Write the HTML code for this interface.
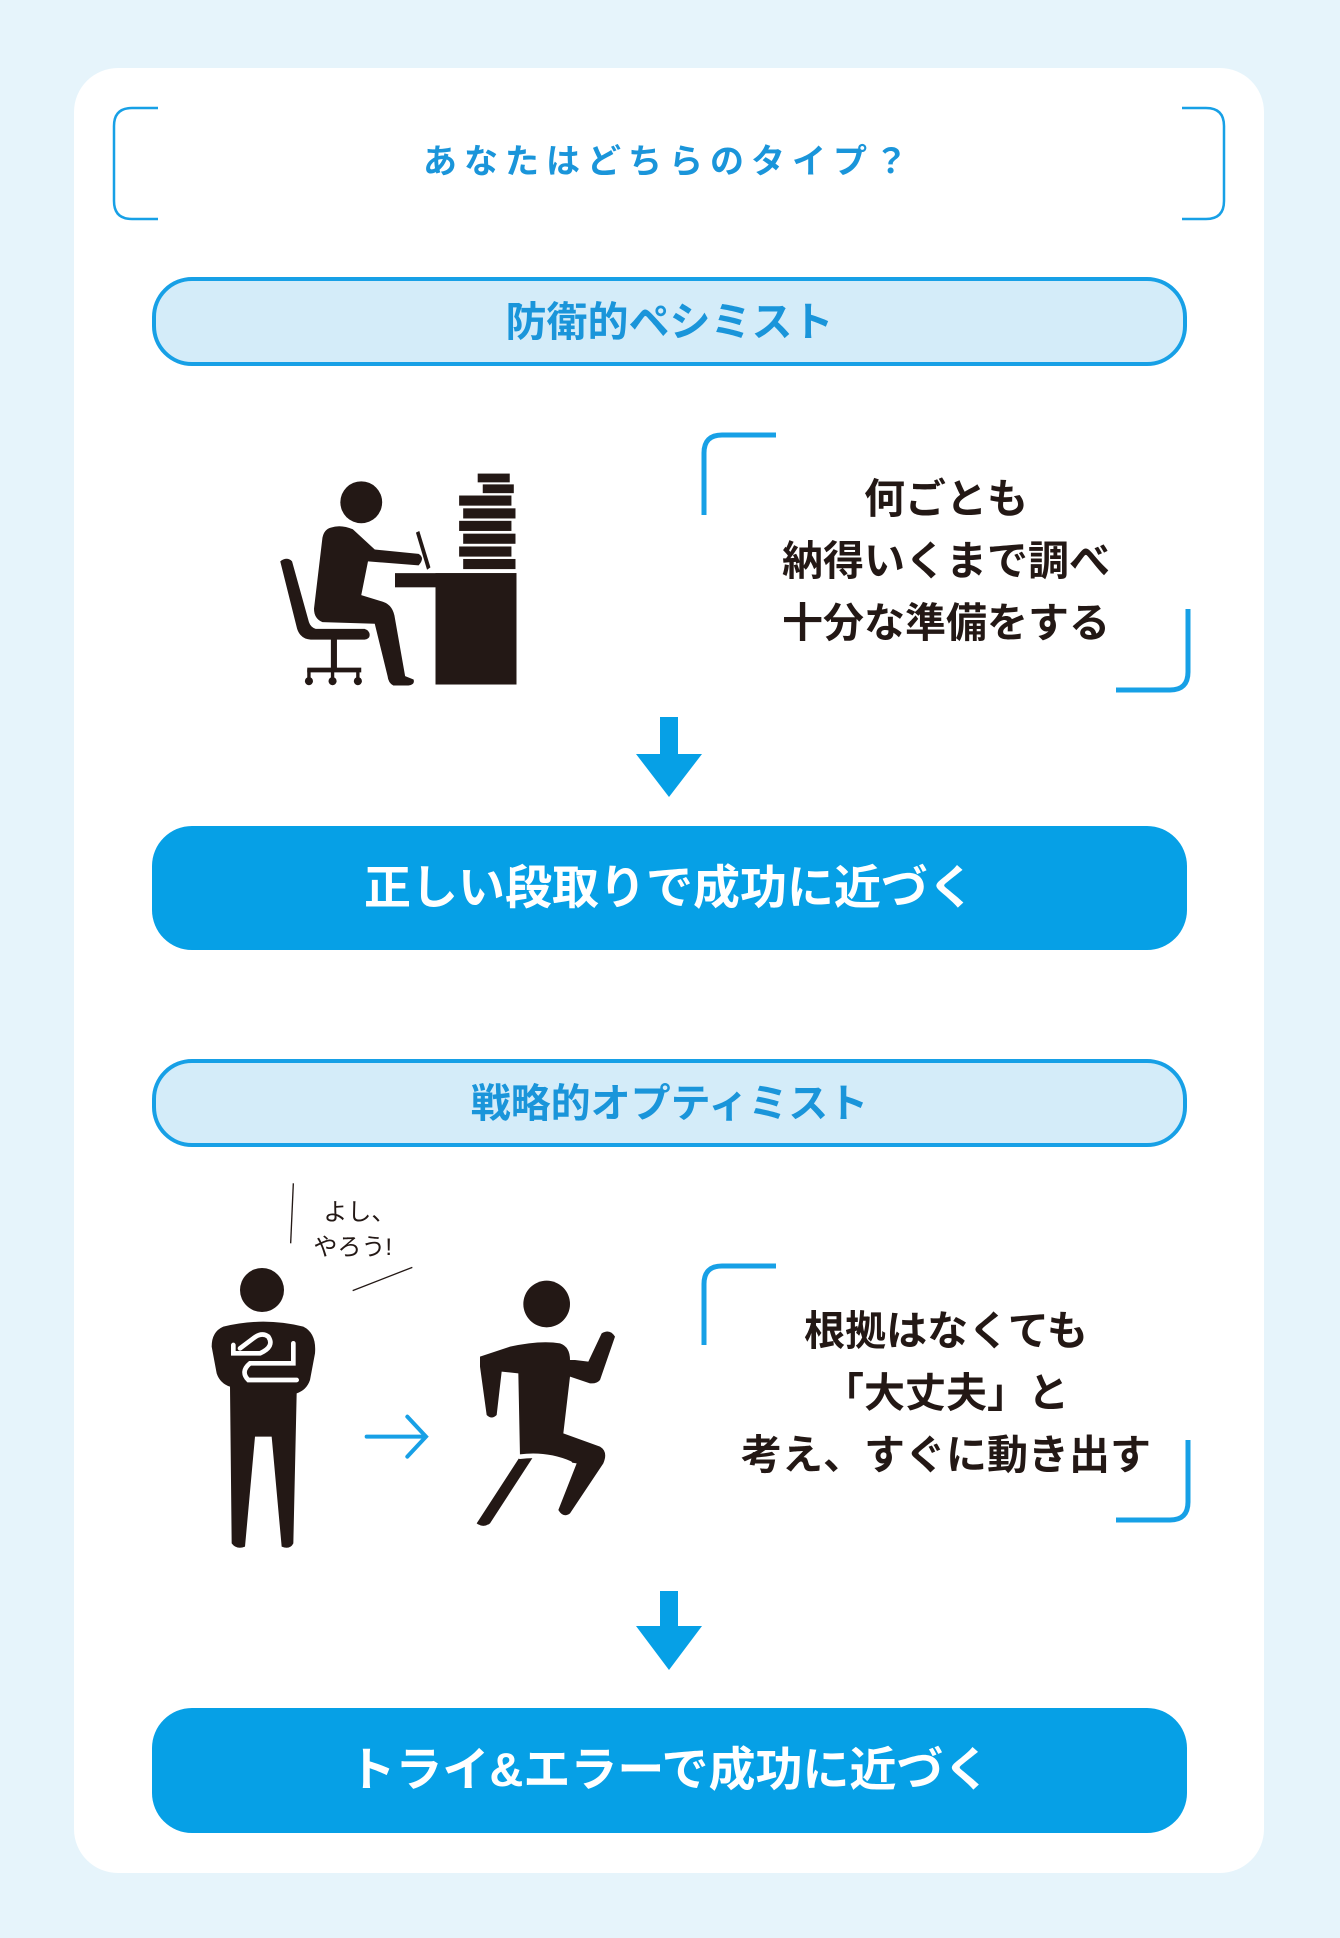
<!DOCTYPE html>
<html><head><meta charset="utf-8"><style>
body{margin:0;width:1340px;height:1938px;background:#e6f4fb;position:relative;overflow:hidden;font-family:"Liberation Sans","Noto Sans CJK JP",sans-serif;}
.abs{position:absolute;}
.card{left:74px;top:68px;width:1190px;height:1805px;background:#fff;border-radius:44px;}
.t{position:absolute;text-align:center;white-space:nowrap;}
.pill{position:absolute;left:152px;width:1035px;border:4px solid #17a0e6;background:#d4ecf9;border-radius:40px;box-sizing:border-box;}
.btn{position:absolute;left:152px;width:1035px;background:#06a0e6;border-radius:40px;}
.blk{color:#231815;font-weight:bold;font-size:41px;line-height:62px;}
</style></head><body>
<div class="abs card"></div>
<svg class="abs" style="left:0;top:0" width="1340" height="1938">
<g fill="none" stroke="#17a0e6" stroke-width="2.5">
<path d="M158 108 H132 Q114 108 114 126 V201 Q114 219 132 219 H158"/>
<path d="M1182 108 H1206 Q1224 108 1224 126 V201 Q1224 219 1206 219 H1182"/>
</g>
<g fill="none" stroke="#17a0e6" stroke-width="5">
<path d="M776 435 H722 Q704 435 704 453 V515"/>
<path d="M1188 609 V672 Q1188 690 1170 690 H1116"/>
<path d="M776 1266 H722 Q704 1266 704 1284 V1345"/>
<path d="M1188 1440 V1502 Q1188 1520 1170 1520 H1116"/>
</g>
<g fill="#06a0e6">
<rect x="660" y="717" width="18" height="38"/><polygon points="636,754 702,754 669,797"/>
<rect x="660" y="1591" width="18" height="36"/><polygon points="636,1626 702,1626 669,1670"/>
</g>
</svg>
<div class="t" style="left:114px;width:1110px;top:139px;font-size:34px;font-weight:bold;color:#1a95da;letter-spacing:7px;line-height:46px;">あなたはどちらのタイプ？</div>
<div class="pill" style="top:277px;height:89px;"><div class="t" style="left:0;right:0;top:16px;font-size:41px;font-weight:bold;color:#1a95da;line-height:50px;">防衛的ペシミスト</div></div>
<div class="pill" style="top:1059px;height:88px;"><div class="t" style="left:0;right:0;top:16px;font-size:40px;font-weight:bold;color:#1a95da;line-height:50px;">戦略的オプティミスト</div></div>
<div class="t blk" style="left:746px;width:400px;top:468px;">何ごとも<br>納得いくまで調べ<br>十分な準備をする</div>
<div class="t blk" style="left:726px;width:440px;top:1300px;">根拠はなくても<br>「大丈夫」と<br>考え、すぐに動き出す</div>
<div class="btn" style="top:826px;height:124px;"><div class="t" style="left:0;right:0;top:32px;font-size:47px;font-weight:bold;color:#fff;line-height:60px;">正しい段取りで成功に近づく</div></div>
<div class="btn" style="top:1708px;height:125px;"><div class="t" style="left:0;right:0;top:32px;font-size:47px;font-weight:bold;color:#fff;line-height:60px;">トライ&amp;エラーで成功に近づく</div></div>
<svg class="abs" style="left:260px;top:460px" width="270" height="230" viewBox="0 0 800 681">
<g fill="#231815">
<circle cx="300" cy="125" r="62"/>
<rect x="645" y="40" width="95" height="26"/><rect x="660" y="72" width="92" height="26"/>
<rect x="590" y="105" width="155" height="30"/><rect x="602" y="143" width="155" height="30"/>
<rect x="590" y="180" width="155" height="30"/><rect x="602" y="218" width="155" height="30"/>
<rect x="590" y="256" width="155" height="30"/><rect x="602" y="293" width="155" height="30"/>
<rect x="400" y="335" width="360" height="42"/><rect x="520" y="335" width="240" height="330"/>
<path d="M210 200 Q240 190 275 205 L340 265 L470 278 Q490 290 470 312 L320 300 L300 400 L365 420 Q395 430 400 470 L430 640 L455 650 Q460 665 440 668 L395 668 Q380 660 378 640 L340 485 L185 480 Q160 470 160 440 L185 230 Q190 205 210 200 Z"/>
<path d="M462 215 L472 210 L505 318 L495 325 Z"/>
<path d="M60 300 Q80 285 95 300 L145 480 Q150 495 165 500 L310 500 Q325 505 325 518 Q325 530 310 532 L150 532 Q120 530 110 500 Z"/>
<rect x="210" y="530" width="18" height="90"/><rect x="140" y="615" width="160" height="14"/>
<circle cx="145" cy="655" r="12"/><circle cx="215" cy="655" r="12"/><circle cx="290" cy="655" r="12"/>
<rect x="140" y="620" width="10" height="30"/><rect x="210" y="620" width="10" height="30"/><rect x="285" y="620" width="10" height="30"/>
</g>
</svg>
<svg class="abs" style="left:200px;top:1180px" width="430" height="380" viewBox="0 0 1290 1140">
<g stroke="#231815" stroke-width="4"><line x1="280" y1="10" x2="272" y2="190"/><line x1="458" y1="332" x2="637" y2="262"/></g>
<text x="370" y="120" font-size="72" fill="#231815" font-family="Liberation Sans,Noto Sans CJK JP,sans-serif">よし、</text>
<text x="340" y="225" font-size="72" fill="#231815" font-family="Liberation Sans,Noto Sans CJK JP,sans-serif">やろう!</text>
<g fill="#231815">
<circle cx="186" cy="330" r="66"/>
<path d="M70 440 Q190 410 310 440 Q350 460 345 520 L330 600 Q320 630 290 640 L280 1090 Q270 1110 245 1100 L215 770 L165 770 L135 1100 Q110 1110 95 1090 L90 620 Q60 610 50 580 L35 500 Q35 455 70 440 Z"/>
<circle cx="1040" cy="372" r="70"/>
<path d="M840 530 L930 500 Q1020 480 1080 490 Q1110 500 1110 540 L1125 540 L1165 545 L1205 460 Q1230 445 1245 470 L1200 600 Q1190 612 1170 610 L1110 590 L1090 760 L1200 800 Q1225 815 1210 850 L1110 1000 Q1090 1015 1075 990 L1130 850 L1000 830 L870 1030 Q850 1045 830 1030 L960 830 L955 580 L905 575 L890 705 Q875 720 860 705 L840 560 Z"/>
</g>
<g fill="none" stroke="#fff" stroke-width="14" stroke-linecap="round"><path d="M100 495 L100 520 L180 520 Q225 500 205 470 Q185 455 160 475 L120 505"/><path d="M280 490 L280 550 L150 550 Q120 575 145 600 L290 600"/><path d="M960 830 Q1040 820 1110 850"/></g>
<g fill="none" stroke="#17a0e6" stroke-width="12" stroke-linecap="round"><line x1="500" y1="770" x2="675" y2="770"/><path d="M622 710 L678 770 L622 830"/></g>
</svg>
</body></html>
